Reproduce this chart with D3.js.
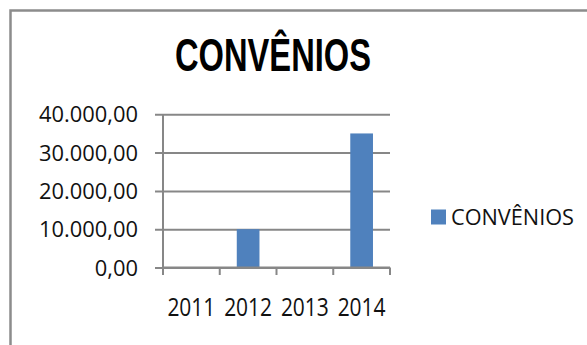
<!DOCTYPE html>
<html>
<head>
<meta charset="utf-8">
<script src="https://cdn.jsdelivr.net/npm/d3@7"></script>
<style>
  html, body { margin: 0; padding: 0; background: #fff; }
  svg { display: block; font-family: "Open Sans", "Noto Sans", sans-serif; }
</style>
</head>
<body>
<svg id="chart" width="587" height="345"></svg>
<script>
// Chart data
const chartTitle = "CONVÊNIOS";
const seriesName = "CONVÊNIOS";
const years = ["2011", "2012", "2013", "2014"];
const values = [0, 10000, 0, 35000];
const yTicks = [0, 10000, 20000, 30000, 40000];

const svg = d3.select("#chart");
const W = 587, H = 345;
const plot = { left: 163, right: 390, top: 114.3, bottom: 267.5 };
const axisColor = "#878787";
const barColor = "#4F81BD";
const textFont = "Open Sans, Noto Sans, sans-serif";

// Brazilian number format: 40.000,00
const ptBR = d3.formatLocale({ decimal: ",", thousands: ".", grouping: [3], currency: ["R$", ""] });
const fmt = ptBR.format(",.2f");

// Scale a group of text runs horizontally so the widest one spans `width`
function fitTo(sel, width) {
  let widest = 0;
  sel.each(function () { widest = Math.max(widest, this.getComputedTextLength()); });
  const k = width / widest;
  sel.each(function () {
    const w = this.getComputedTextLength();
    d3.select(this).attr("textLength", w * k).attr("lengthAdjust", "spacingAndGlyphs");
  });
}

svg.append("rect").attr("width", W).attr("height", H).attr("fill", "#fff");

// Chart area frame (open at right and bottom)
svg.append("path")
  .attr("d", `M10.5,${H} V10.5 H${W}`)
  .attr("fill", "none")
  .attr("stroke", "#8c8c8c")
  .attr("stroke-width", 2.5);

// Scales
const y = d3.scaleLinear().domain([0, 40000]).range([plot.bottom, plot.top]);
const x = d3.scaleBand().domain(years).range([plot.left, plot.right])
  .paddingInner(0.6).paddingOuter(0.3);
const xCat = d3.scaleBand().domain(years).range([plot.left, plot.right]).padding(0);

// Horizontal gridlines with left tick marks
const grid = svg.append("g")
  .attr("transform", `translate(${plot.left - 8},0)`)
  .call(d3.axisRight(y).tickValues(yTicks).tickSize(plot.right - plot.left + 8).tickFormat(""));
grid.select(".domain").remove();
grid.selectAll(".tick line").attr("stroke", axisColor).attr("stroke-width", 2);

// Y tick labels
const yLab = svg.append("g")
  .attr("transform", `translate(138,0)`)
  .call(d3.axisLeft(y).tickValues(yTicks).tickSize(0).tickPadding(0).tickFormat(fmt));
yLab.select(".domain").remove();
yLab.selectAll(".tick text")
  .attr("font-family", textFont)
  .attr("font-size", 21)
  .attr("fill", "#111")
  .attr("dy", null)
  .attr("y", 7.5)
  .call(fitTo, 99);

// Bars
svg.append("g").selectAll("rect")
  .data(years.map((yr, i) => ({ yr, v: values[i] })))
  .join("rect")
  .attr("x", d => x(d.yr))
  .attr("width", x.bandwidth())
  .attr("y", d => y(d.v))
  .attr("height", d => y(0) - y(d.v))
  .attr("fill", barColor);

// Y axis line
svg.append("line")
  .attr("x1", plot.left).attr("x2", plot.left)
  .attr("y1", plot.top).attr("y2", plot.bottom)
  .attr("stroke", axisColor).attr("stroke-width", 2);

// X axis line with category boundary ticks
svg.append("line")
  .attr("x1", plot.left).attr("x2", plot.right)
  .attr("y1", plot.bottom).attr("y2", plot.bottom)
  .attr("stroke", axisColor).attr("stroke-width", 2);
const bounds = years.map(d => xCat(d)).concat([xCat.range()[1]]);
svg.append("g").selectAll("line")
  .data(bounds)
  .join("line")
  .attr("x1", d => d).attr("x2", d => d)
  .attr("y1", plot.bottom).attr("y2", plot.bottom + 7.5)
  .attr("stroke", axisColor).attr("stroke-width", 2);

// X labels
const xLab = svg.append("g")
  .attr("transform", `translate(0,${plot.bottom})`)
  .call(d3.axisBottom(xCat).tickSize(0).tickPadding(0));
xLab.select(".domain").remove();
xLab.selectAll(".tick text")
  .attr("font-family", textFont)
  .attr("font-size", 25.5)
  .attr("fill", "#111")
  .attr("dy", null)
  .attr("y", 48)
  .call(fitTo, 48);

// Title
svg.append("text")
  .attr("x", 273).attr("y", 70.7)
  .attr("text-anchor", "middle")
  .attr("font-family", "Liberation Sans, Arial, sans-serif")
  .attr("font-size", 46.5)
  .attr("font-weight", "bold")
  .attr("fill", "#000")
  .text(chartTitle)
  .call(fitTo, 196);

// Legend
const legend = svg.append("g").attr("transform", "translate(431,209.5)");
legend.append("rect").attr("width", 15).attr("height", 15).attr("fill", barColor);
legend.append("text")
  .attr("x", 20).attr("y", 15)
  .attr("font-family", textFont)
  .attr("font-size", 21)
  .attr("fill", "#111")
  .text(seriesName)
  .call(fitTo, 123);
</script>
</body>
</html>
